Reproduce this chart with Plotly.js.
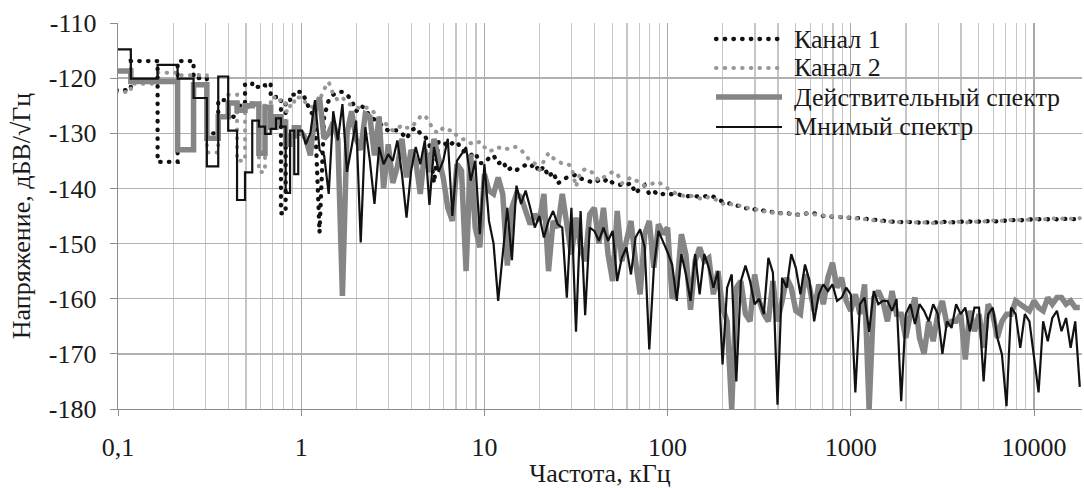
<!DOCTYPE html>
<html>
<head>
<meta charset="utf-8">
<script src="https://cdn.plot.ly/plotly-3.0.1.min.js"></script>
<style>html,body{margin:0;padding:0;background:#fff}#chart{width:1084px;height:488px}</style>
</head>
<body>
<div id="chart"></div>
<script>
// Series names
const seriesNames = ["Канал 1", "Канал 2", "Действительный спектр", "Мнимый спектр"];

// Low-frequency bins (kHz): edges of the frequency bins drawn as steps
const binEdges = [0.0705, 0.1175, 0.1645, 0.2115, 0.2585, 0.3055, 0.3525, 0.3995, 0.4465, 0.4935, 0.5405,
  0.5875, 0.6345, 0.6815, 0.7285, 0.7755, 0.8225, 0.8695, 0.9165, 0.9635, 1.0105];

// Values in each low-frequency bin (dBV/√Hz)
const ch1Low  = [-122.2, -116.9, -135.2, -116.9, -120.0, -130.0, -124.0, -127.0, -125.0, -121.0,
  -121.6, -121.3, -121.0, -123.0, -124.0, -144.5, -124.5, -123.0, -122.5, -122.5];
const ch2Low  = [-122.5, -121.0, -119.0, -119.5, -119.4, -133.5, -127.0, -123.0, -135.0, -125.3,
  -124.5, -137.0, -125.0, -123.5, -124.0, -124.5, -126.0, -125.0, -124.0, -123.5];
const realLow = [-118.7, -120.6, -120.6, -133.0, -121.2, -130.9, -127.0, -124.5, -125.8, -125.0,
  -124.7, -133.6, -125.3, -128.9, -127.0, -128.0, -132.0, -130.5, -129.0, -130.0];
const imagLow = [-114.8, -120.1, -117.6, -120.1, -123.6, -136.0, -119.7, -129.5, -142.1, -137.1,
  -127.7, -128.8, -130.1, -129.2, -127.3, -128.8, -140.8, -129.5, -137.4, -129.5];

// Higher frequencies (kHz)
const fHigh = [
  1.059, 1.122, 1.189, 1.259, 1.334, 1.413, 1.496, 1.585, 1.679, 1.778, 1.884, 1.995, 2.113, 2.239, 2.371, 2.512,
  2.661, 2.818, 2.985, 3.162, 3.350, 3.548, 3.758, 3.981, 4.217, 4.467, 4.732, 5.012, 5.309, 5.623, 5.957, 6.310,
  6.683, 7.079, 7.499, 7.943, 8.414, 8.913, 9.441,
  10, 10.59, 11.22, 11.89, 12.59, 13.34, 14.13, 14.96, 15.85, 16.79, 17.78, 18.84, 19.95, 21.13, 22.39, 23.71,
  25.12, 26.61, 28.18, 29.85, 31.62, 33.50, 35.48, 37.58, 39.81, 42.17, 44.67, 47.32, 50.12, 53.09, 56.23, 59.57,
  63.10, 66.83, 70.79, 74.99, 79.43, 84.14, 89.13, 94.41,
  100, 105.9, 112.2, 118.9, 125.9, 133.4, 141.3, 149.6, 158.5, 167.9, 177.8, 188.4, 199.5, 211.3, 223.9, 237.1,
  251.2, 266.1, 281.8, 298.5, 316.2, 335.0, 354.8, 375.8, 398.1, 421.7, 446.7, 473.2, 501.2, 530.9, 562.3, 595.7,
  631.0, 668.3, 707.9, 749.9, 794.3, 841.4, 891.3, 944.1,
  1000, 1059, 1122, 1189, 1259, 1334, 1413, 1496, 1585, 1679, 1778, 1884, 1995, 2113, 2239, 2371,
  2512, 2661, 2818, 2985, 3162, 3350, 3548, 3758, 3981, 4217, 4467, 4732, 5012, 5309, 5623, 5957,
  6310, 6683, 7079, 7499, 7943, 8414, 8913, 9441,
  10000, 10590, 11220, 11890, 12590, 13340, 14130, 14960, 15850, 16790, 17780];

const ch1High = [
  -124, -126, -127, -148, -127, -124, -123, -122.5, -122.5, -123,
  -124, -126, -125, -125.5, -127, -127.5, -128, -129, -129.5, -129.4,
  -129.5, -130, -131, -129.5, -129, -130, -130.5, -132, -139, -131.5,
  -131.5, -132.4, -131.8, -131.5, -133, -133.5, -134, -133.5, -135.4, -135.4,
  -134.5, -134, -135.5, -135, -136.7, -136.2, -136.7, -136, -135.8, -136.2,
  -135.5, -137, -136, -137.9, -137, -139.1, -138.5, -138, -137.8, -137.5,
  -138.2, -138.4, -138.8, -139, -138.5, -138.8, -138.2, -139, -139.3, -139.3,
  -139.4, -139, -140.9, -140, -139.4, -141, -140.5, -141.2, -141, -141.2,
  -141, -141, -141.3, -141.5, -141.3, -141.5, -141.5, -141.5, -141.2, -141.5,
  -142, -142.4, -142.6, -142.8, -143, -143.3, -143.6, -143.6, -143.8, -143.9,
  -144, -144.1, -144.3, -144.5, -144.5, -144.4, -144.7, -144.8, -144.8, -144.6,
  -144.4, -144.5, -144.8, -145, -145.1, -145.1, -145.2, -145.2, -145.3, -145.3,
  -145.4, -145.4, -145.5, -145.6, -145.7, -145.8, -145.9, -146, -146, -146.1,
  -146.1, -146.1, -146, -146.1, -146.2, -146.1, -146.2, -146.1, -146.2, -146.1,
  -146, -146.1, -146.2, -146, -146.1, -146, -146.1, -146, -146.1, -145.9,
  -145.9, -146, -145.8, -145.9, -145.8, -145.7, -145.8, -145.7, -145.6, -145.7,
  -145.6, -145.5, -145.6, -145.5, -145.6, -145.5, -145.5, -145.6, -145.5, -145.5];

const ch2High = [
  -124.5, -125, -125.5, -124, -122, -120.7, -123, -124, -123.5, -124.5,
  -125, -125.3, -125.5, -125.3, -125.5, -126.3, -127, -128, -128.8, -129.5,
  -129.2, -128.5, -129, -129, -128, -127, -126.7, -128, -129.5, -130,
  -129, -129.5, -129.4, -130.5, -131, -131.2, -131.8, -132, -131.5, -132.5,
  -133.3, -133, -132.5, -133, -132.8, -132.4, -132.5, -133, -134, -135,
  -135.5, -136.7, -135, -133.6, -134.5, -135, -135.5, -135.5, -136, -139.7,
  -137, -136.5, -136.7, -137.5, -138.6, -138, -137.5, -137, -137.3, -139.1,
  -138.5, -138, -138.5, -139, -139.5, -139.3, -139, -138.8, -139.5, -140,
  -140.5, -141, -141.2, -141.5, -141.3, -141.6, -141.8, -142, -141.5, -141.8,
  -142.2, -142.8, -142.5, -142.9, -143.2, -143.1, -143.5, -143.7, -143.8, -143.8,
  -144.2, -144, -144.4, -144.3, -144.6, -144.5, -144.6, -144.9, -144.7, -144.5,
  -144.6, -144.7, -144.9, -144.9, -145.2, -145, -145.3, -145.1, -145.4, -145.2,
  -145.5, -145.3, -145.6, -145.5, -145.8, -145.7, -146, -145.9, -146.1, -146,
  -146.2, -146, -146.1, -146.2, -146, -146.2, -146.1, -146.3, -146.1, -146.2,
  -146.1, -146.2, -146, -146.1, -146.2, -146.1, -146, -146.1, -146, -146,
  -145.8, -145.9, -145.9, -145.8, -145.7, -145.8, -145.7, -145.6, -145.7, -145.6,
  -145.5, -145.6, -145.5, -145.5, -145.4, -145.5, -145.4, -145.5, -145.4, -145.4];

const realHigh = [
  -131, -134, -126, -123.5, -131, -130, -128, -131, -159.5, -130,
  -126, -131, -133, -126.5, -127, -134, -127, -140, -132, -139,
  -136, -131, -138, -133, -135, -141, -133, -137, -131, -135,
  -138, -143.5, -145.9, -135.6, -136.8, -155, -133.8, -147.1, -150.7, -137.4,
  -140.4, -141, -138, -141, -154, -143.5, -141, -141.6, -144.1, -146.5,
  -144.7, -145.9, -141, -155, -145.9, -147.1, -141, -145.9, -152, -145.3,
  -150.7, -153.2, -144.7, -143.5, -150, -143.5, -152, -156.8, -144.1, -153.2,
  -149.5, -145.9, -153.2, -159.2, -148.3, -145.9, -154.4, -146.5, -148.3, -147.1,
  -160, -158, -148.3, -152, -162, -153.2, -150.7, -153.2, -152.6, -159.2,
  -155, -161.6, -164.1, -180, -158, -156.8, -162.8, -164.1, -155.6, -160.4,
  -162.8, -164.1, -156.8, -164.1, -160.4, -156.2, -158, -162.2, -162.8, -155.6,
  -158, -162.2, -157.4, -161, -156.2, -153.5, -158, -156.2, -160.4, -162.2,
  -159.2, -162.8, -157.4, -180, -159.8, -158.6, -160.4, -164.1, -158.6, -162.8,
  -162.8, -167.1, -162.8, -159.8, -167.1, -170, -164.1, -167.7, -162.8, -160.4,
  -164.7, -164.1, -164.1, -162.8, -171, -162.2, -165.9, -162.8, -168.9, -161,
  -162.8, -167.1, -164.1, -162.8, -162.8, -160.4, -161, -161.6, -162.2, -160.4,
  -161.6, -162.2, -159.8, -161, -159.8, -159.8, -161, -160.4, -161.6, -161.6];

const imagHigh = [
  -132, -130, -124, -133, -134, -141, -126, -131.3, -124.7, -137,
  -132.5, -127.7, -149.8, -128.9, -135, -142.8, -132.5, -135.6, -133.8, -135,
  -131.3, -137.4, -145.3, -136.8, -132.5, -135.6, -131.3, -143, -132.5, -137,
  -135, -131, -145, -135, -133.8, -132.5, -138.6, -135, -148.3, -135.6,
  -145.9, -150, -160.4, -152, -143.5, -153, -139.5, -142.8, -140.4, -143.5,
  -147.1, -145, -148.9, -145.9, -144.1, -146.5, -147.1, -159.8, -143.5, -166,
  -144.1, -163, -147.1, -147.7, -149.5, -147.1, -149.5, -147.7, -156.8, -152.6,
  -150.7, -155.6, -148.9, -147.4, -150.7, -169.2, -154.4, -147.7, -149.5, -151.6,
  -153.8, -160.4, -151.9, -155.6, -160.4, -151.9, -159.2, -151.9, -154.4, -158,
  -155, -171.9, -158, -155.6, -175, -156.8, -154, -156.8, -161, -160,
  -162.8, -152.6, -155.3, -179.2, -156.2, -158, -151.9, -154.4, -159.2, -153.8,
  -156.8, -164.1, -159.2, -157.4, -158.6, -157.4, -160.4, -159.8, -158, -159.2,
  -177, -161, -159.8, -166, -158.6, -161, -160.4, -160.4, -162.2, -160.1,
  -178.6, -162.8, -161, -164.6, -161, -162.2, -164.1, -161, -162.8, -170,
  -164.1, -165.3, -161, -162.8, -161.6, -165.9, -161.6, -161.6, -175, -162.8,
  -161.6, -167.1, -170.1, -179.5, -161.6, -162.8, -168.9, -162.8, -164.1, -170.1,
  -177, -164.1, -167.7, -163.5, -162.2, -165.9, -163.5, -168.9, -164.1, -176];

// Axis ticks
const xTickVals = [0.1, 1, 10, 100, 1000, 10000];
const xTickText = ["0,1", "1", "10", "100", "1000", "10000"];
const yTickVals = [-180, -170, -160, -150, -140, -130, -120, -110];
const yTickText = ["-180", "-170", "-160", "-150", "-140", "-130", "-120", "-110"];

// Build a series: low bins as steps, then the high-frequency points
function buildSeries(low, high) {
  const x = [], y = [];
  low.forEach((v, i) => { x.push(binEdges[i], binEdges[i + 1]); y.push(v, v); });
  high.forEach((v, i) => { x.push(fHigh[i]); y.push(v); });
  return { x, y };
}

const series = [
  buildSeries(ch1Low, ch1High),
  buildSeries(ch2Low, ch2High),
  buildSeries(realLow, realHigh),
  buildSeries(imagLow, imagHigh)
];

const FONT = 'Liberation Serif';
const TXT = '#1a1a1a';
const FS = 26;
const DOT = '0.5px,8.2px';

const styles = [
  { color: '#111111', width: 4.3, dash: DOT },
  { color: '#979797', width: 4, dash: DOT },
  { color: '#858585', width: 5.5, dash: 'solid' },
  { color: '#111111', width: 2.2, dash: 'solid' }
];

const traces = series.map((s, i) => ({
  x: s.x, y: s.y, name: seriesNames[i], type: 'scatter', mode: 'lines',
  line: styles[i], showlegend: false
}));

// minor grid positions (2..9 in every decade)
const minorVals = [];
[0.1, 1, 10, 100, 1000, 10000].forEach(d => { for (let m = 2; m <= 9; m++) minorVals.push(d * m); });

// Legend drawn in the plot's upper right corner (Excel-like box)
const legendRowsPx = [39, 68, 97, 127];
const plotTop = 23, plotH = 386, plotL = 118, plotW = 964;
const toPY = py => (plotTop + plotH - py) / plotH;
const toPX = px => (px - plotL) / plotW;

const shapes = [{
  type: 'rect', xref: 'paper', yref: 'paper',
  x0: toPX(700), x1: toPX(1077), y0: toPY(140), y1: toPY(25),
  fillcolor: '#ffffff', line: { width: 0 }, layer: 'between'
}];
const annotations = [];
seriesNames.forEach((name, i) => {
  const yp = toPY(legendRowsPx[i]);
  shapes.push({
    type: 'line', xref: 'paper', yref: 'paper', x0: toPX(716), x1: toPX(782), y0: yp, y1: yp,
    line: { color: styles[i].color, width: styles[i].width, dash: styles[i].dash }, layer: 'above'
  });
  annotations.push({
    xref: 'paper', yref: 'paper', x: toPX(792), y: yp, xanchor: 'left', yanchor: 'middle',
    text: name, showarrow: false, font: { family: FONT, size: FS, color: TXT }
  });
});

const layout = {
  width: 1084, height: 488,
  margin: { l: 118, r: 2, t: 23, b: 79 },
  paper_bgcolor: '#ffffff', plot_bgcolor: '#ffffff',
  font: { family: FONT, size: FS, color: TXT },
  showlegend: false,
  xaxis: {
    type: 'log', range: [-1, 4.262],
    tickmode: 'array', tickvals: xTickVals, ticktext: xTickText,
    ticks: 'outside', ticklen: 6, tickcolor: '#8c8c8c', tickwidth: 1,
    ticklabelstandoff: 8,
    showgrid: true, gridcolor: '#a8a8a8', gridwidth: 1.3,
    minor: { tickmode: 'array', tickvals: minorVals, showgrid: true, gridcolor: '#c6c6c6', gridwidth: 1.2, ticks: '' },
    showline: true, linecolor: '#8c8c8c', linewidth: 1.3,
    zeroline: false,
    tickfont: { family: FONT, size: FS, color: TXT },
    title: { text: 'Частота, кГц', font: { family: FONT, size: FS, color: TXT }, standoff: 28 }
  },
  yaxis: {
    range: [-180, -110],
    tickmode: 'array', tickvals: yTickVals, ticktext: yTickText,
    ticks: 'outside', ticklen: 7, tickcolor: '#8c8c8c', tickwidth: 1,
    ticklabelstandoff: 8,
    showgrid: true, gridcolor: '#b0b0b0', gridwidth: 1.3,
    showline: true, linecolor: '#8c8c8c', linewidth: 1.3,
    zeroline: false,
    tickfont: { family: FONT, size: FS, color: TXT },
    title: { text: 'Напряжение, дБВ/√Гц', font: { family: FONT, size: FS, color: TXT }, standoff: 10 }
  },
  shapes: shapes,
  annotations: annotations
};

Plotly.newPlot('chart', traces, layout, { displayModeBar: false, staticPlot: true }).then(gd => {
  // round line caps so the dotted channel lines show round dots
  gd.querySelectorAll('path').forEach(p => {
    const d = p.style.strokeDasharray || '';
    if (d.indexOf('0.5') === 0) p.style.strokeLinecap = 'round';
  });
});
</script>
</body>
</html>
